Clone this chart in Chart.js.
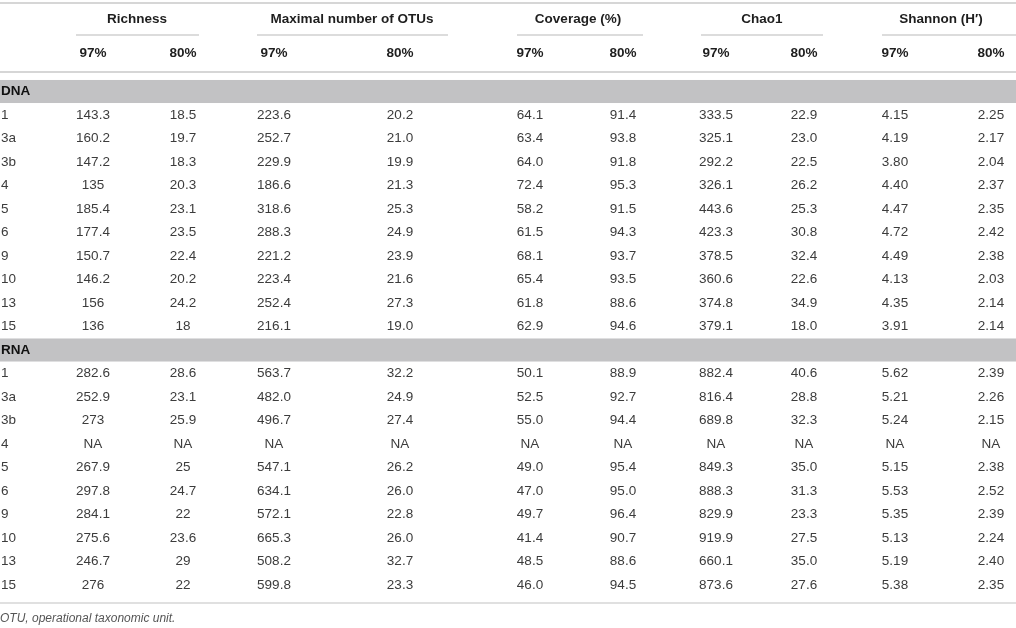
<!DOCTYPE html>
<html>
<head>
<meta charset="utf-8">
<script src="https://cdn.jsdelivr.net/npm/chart.js@4/dist/chart.umd.min.js"></script>
<style>
html,body{margin:0;padding:0;background:#fff;}
#wrap{width:1016px;height:628px;}
</style>
</head>
<body>
<div id="wrap"><canvas id="c" width="1016" height="628"></canvas></div>
<script>
// ---- data ----
const rowLabels = ['1','3a','3b','4','5','6','9','10','13','15'];
const sections = ['DNA','RNA'];
const groups = ['Richness','Maximal number of OTUs','Coverage (%)','Chao1','Shannon (H′)'];
const levels = ['97%','80%'];
const footnote = 'OTU, operational taxonomic unit.';

const dnaRichness97 = [143.3,160.2,147.2,135,185.4,177.4,150.7,146.2,156,136];
const dnaRichness80 = [18.5,19.7,18.3,20.3,23.1,23.5,22.4,20.2,24.2,18];
const dnaMaxOtu97   = [223.6,252.7,229.9,186.6,318.6,288.3,221.2,223.4,252.4,216.1];
const dnaMaxOtu80   = [20.2,21.0,19.9,21.3,25.3,24.9,23.9,21.6,27.3,19.0];
const dnaCoverage97 = [64.1,63.4,64.0,72.4,58.2,61.5,68.1,65.4,61.8,62.9];
const dnaCoverage80 = [91.4,93.8,91.8,95.3,91.5,94.3,93.7,93.5,88.6,94.6];
const dnaChao97     = [333.5,325.1,292.2,326.1,443.6,423.3,378.5,360.6,374.8,379.1];
const dnaChao80     = [22.9,23.0,22.5,26.2,25.3,30.8,32.4,22.6,34.9,18.0];
const dnaShannon97  = [4.15,4.19,3.80,4.40,4.47,4.72,4.49,4.13,4.35,3.91];
const dnaShannon80  = [2.25,2.17,2.04,2.37,2.35,2.42,2.38,2.03,2.14,2.14];

const rnaRichness97 = [282.6,252.9,273,null,267.9,297.8,284.1,275.6,246.7,276];
const rnaRichness80 = [28.6,23.1,25.9,null,25,24.7,22,23.6,29,22];
const rnaMaxOtu97   = [563.7,482.0,496.7,null,547.1,634.1,572.1,665.3,508.2,599.8];
const rnaMaxOtu80   = [32.2,24.9,27.4,null,26.2,26.0,22.8,26.0,32.7,23.3];
const rnaCoverage97 = [50.1,52.5,55.0,null,49.0,47.0,49.7,41.4,48.5,46.0];
const rnaCoverage80 = [88.9,92.7,94.4,null,95.4,95.0,96.4,90.7,88.6,94.5];
const rnaChao97     = [882.4,816.4,689.8,null,849.3,888.3,829.9,919.9,660.1,873.6];
const rnaChao80     = [40.6,28.8,32.3,null,35.0,31.3,23.3,27.5,35.0,27.6];
const rnaShannon97  = [5.62,5.21,5.24,null,5.15,5.53,5.35,5.13,5.19,5.38];
const rnaShannon80  = [2.39,2.26,2.15,null,2.38,2.52,2.39,2.24,2.40,2.35];

const groupDecimals = [null,1,1,1,2]; // null = as written

// ---- layout (presentation only) ----
const FONT = '"Liberation Sans", Arial, Helvetica, sans-serif';
const colCenters = [93,183, 274,400, 530,623, 716,804, 895,991];
const groupCenters = [137,352,578,762,941];
const groupRules = [[76,199],[257,448],[517,643],[701,823],[882,1016]];
const ROW_PX = 23.5, FIRST_PX = 91.5;
const yMin = -FIRST_PX/ROW_PX, yMax = (628-FIRST_PX)/ROW_PX;
const pxToRow = p => (p-FIRST_PX)/ROW_PX;

const dnaCols = [dnaRichness97,dnaRichness80,dnaMaxOtu97,dnaMaxOtu80,dnaCoverage97,dnaCoverage80,dnaChao97,dnaChao80,dnaShannon97,dnaShannon80];
const rnaCols = [rnaRichness97,rnaRichness80,rnaMaxOtu97,rnaMaxOtu80,rnaCoverage97,rnaCoverage80,rnaChao97,rnaChao80,rnaShannon97,rnaShannon80];

function fmt(v, c){
  if (v === null) return 'NA';
  const d = groupDecimals[Math.floor(c/2)];
  return d === null ? String(v) : v.toFixed(d);
}

const datasets = [];
// row labels
const labelPts = [];
rowLabels.forEach((l,i)=>{ labelPts.push({x:1,y:1+i,t:l}); labelPts.push({x:1,y:12+i,t:l}); });
datasets.push({data:labelPts, align:'left', pointRadius:0});
// section labels
datasets.push({data:sections.map((s,i)=>({x:1,y:i*11,t:s})), align:'left', bold:true, pointRadius:0, section:true});
// value columns
for (let c=0;c<10;c++){
  const pts=[];
  dnaCols[c].forEach((v,i)=>pts.push({x:colCenters[c],y:1+i,t:fmt(v,c)}));
  rnaCols[c].forEach((v,i)=>pts.push({x:colCenters[c],y:12+i,t:fmt(v,c)}));
  datasets.push({data:pts, align:'center', pointRadius:0});
}

const tablePlugin = {
  id:'tablePlugin',
  beforeDatasetsDraw(chart){
    const {ctx} = chart; const x = chart.scales.x, y = chart.scales.y;
    ctx.save();
    // section bands
    ctx.fillStyle = '#c2c2c4';
    sections.forEach((s,i)=>{
      const t = y.getPixelForValue(i*11-0.49), b = y.getPixelForValue(i*11+0.49);
      ctx.fillRect(x.getPixelForValue(0), t, x.getPixelForValue(1016)-x.getPixelForValue(0), b-t);
    });
    // horizontal rules
    const rule = (x0,x1,py,w,col)=>{
      ctx.strokeStyle=col; ctx.lineWidth=w; ctx.beginPath();
      const yy = y.getPixelForValue(pxToRow(py));
      ctx.moveTo(x.getPixelForValue(x0),yy); ctx.lineTo(x.getPixelForValue(x1),yy); ctx.stroke();
    };
    rule(0,1016,3,2,'#d6d6d6');
    rule(0,1016,72,2,'#d6d6d6');
    rule(0,1016,603,1.5,'#d6d6d6');
    groupRules.forEach(r=>rule(r[0],r[1],35,1.5,'#d0d0d0'));
    // headers
    ctx.fillStyle='#1e1e1e'; ctx.textBaseline='middle'; ctx.textAlign='center';
    ctx.font = 'bold 13.5px '+FONT;
    groups.forEach((g,i)=>ctx.fillText(g, x.getPixelForValue(groupCenters[i]), y.getPixelForValue(pxToRow(19))));
    colCenters.forEach((cx,i)=>ctx.fillText(levels[i%2], x.getPixelForValue(cx), y.getPixelForValue(pxToRow(53))));
    // footnote
    ctx.font = 'italic 12px '+FONT; ctx.fillStyle='#555'; ctx.textAlign='left';
    ctx.fillText(footnote, x.getPixelForValue(0), y.getPixelForValue(pxToRow(619)));
    ctx.restore();
  },
  afterDatasetsDraw(chart){
    const {ctx} = chart;
    ctx.save(); ctx.textBaseline='middle';
    chart.data.datasets.forEach((ds,di)=>{
      const meta = chart.getDatasetMeta(di);
      ctx.textAlign = ds.align;
      ctx.font = (ds.bold?'bold ':'')+'13.5px '+FONT;
      ctx.fillStyle = ds.bold ? '#111' : '#3c3c3c';
      meta.data.forEach((el,i)=>{ ctx.fillText(ds.data[i].t, el.x, el.y); });
    });
    ctx.restore();
  }
};

new Chart(document.getElementById('c'), {
  type:'scatter',
  data:{datasets},
  options:{
    responsive:false, animation:false, devicePixelRatio:1,
    layout:{padding:0},
    plugins:{legend:{display:false}, tooltip:{enabled:false}},
    elements:{point:{radius:0,hoverRadius:0}},
    scales:{
      x:{type:'linear',min:0,max:1016,display:false},
      y:{type:'linear',min:yMin,max:yMax,reverse:true,display:false}
    }
  },
  plugins:[tablePlugin]
});
</script>
</body>
</html>
